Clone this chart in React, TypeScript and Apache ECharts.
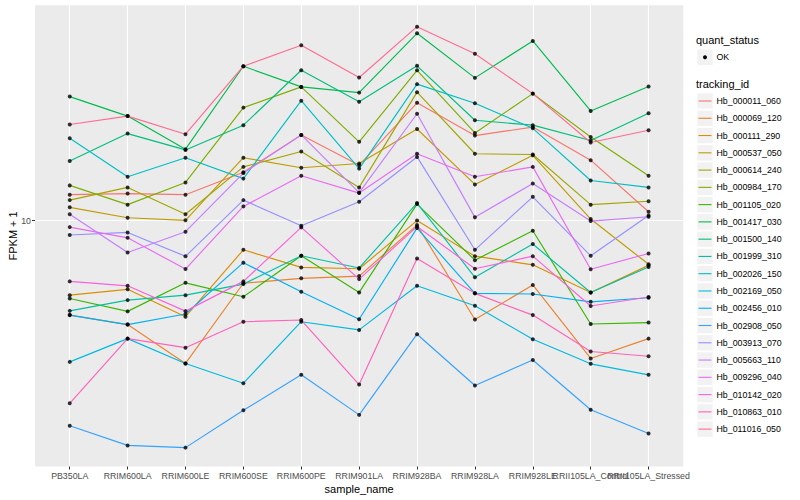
import React, { useEffect, useRef } from "react";
import * as echarts from "echarts";

const categories = [
  "PB350LA", "RRIM600LA", "RRIM600LE", "RRIM600SE", "RRIM600PE", "RRIM901LA",
  "RRIM928BA", "RRIM928LA", "RRIM928LE", "RRII105LA_Control", "RRII105LA_Stressed",
];

const trackingIds = [
  "Hb_000011_060", "Hb_000069_120", "Hb_000111_290", "Hb_000537_050", "Hb_000614_240",
  "Hb_000984_170", "Hb_001105_020", "Hb_001417_030", "Hb_001500_140", "Hb_001999_310",
  "Hb_002026_150", "Hb_002169_050", "Hb_002456_010", "Hb_002908_050", "Hb_003913_070",
  "Hb_005663_110", "Hb_009296_040", "Hb_010142_020", "Hb_010863_010", "Hb_011016_050",
];

const trackingColors = [
  "#F8766D", "#EA8331", "#D89000", "#C09B00", "#A3A500", "#7CAE00", "#39B600",
  "#00BB4E", "#00BF7D", "#00C1A3", "#00BFC4", "#00BAE0", "#00B0F6", "#35A2FF",
  "#9590FF", "#C77CFF", "#E76BF3", "#FA62DB", "#FF62BC", "#FF6C91",
];

// FPKM + 1 values, one array per tracking_id, in category order
const hb000011_060 = [12.2, 12.3, 12.2, 14.5, 19.3, 15.3, 24.7, 19.2, 20.5, 15.9, 10.7];
const hb000069_120 = [4.84, 4.5, 3.34, 6.18, 6.42, 6.53, 9.66, 4.68, 6.1, 3.47, 4.04];
const hb000111_290 = [5.64, 5.9, 4.78, 7.99, 6.98, 6.91, 10.0, 7.61, 7.12, 5.76, 7.09];
const hb000537_050 = [11.07, 10.22, 10.02, 16.2, 15.0, 15.5, 20.2, 13.2, 16.5, 10.12, 7.15];
const hb000614_240 = [11.7, 12.9, 10.5, 15.1, 17.0, 12.9, 26.8, 16.7, 16.6, 11.3, 11.6];
const hb000984_170 = [13.1, 11.3, 13.4, 23.8, 27.9, 18.3, 31.7, 19.6, 26.5, 19.0, 14.1];
const hb001105_020 = [5.5, 4.98, 6.2, 5.57, 7.63, 5.76, 11.35, 7.38, 9.25, 4.52, 4.57];
const hb001417_030 = [25.9, 22.3, 17.3, 32.7, 27.9, 26.7, 42.1, 29.9, 39.7, 23.2, 28.0];
const hb001500_140 = [15.8, 19.5, 17.2, 20.8, 31.7, 24.9, 32.8, 21.6, 20.8, 18.5, 22.8];
const hb001999_310 = [5.0, 5.43, 5.64, 6.14, 7.63, 6.95, 11.44, 6.47, 8.35, 5.76, 7.0];
const hb002026_150 = [18.8, 14.0, 16.2, 13.8, 25.1, 14.9, 28.5, 24.6, 20.3, 13.6, 12.9];
const hb002169_050 = [3.38, 4.04, 3.34, 2.87, 4.6, 4.32, 6.06, 5.2, 4.02, 3.33, 3.06];
const hb002456_010 = [4.84, 4.5, 4.88, 7.24, 5.79, 4.69, 9.44, 5.72, 5.69, 5.36, 5.53];
const hb002908_050 = [2.07, 1.78, 1.75, 2.33, 3.06, 2.25, 4.18, 2.82, 3.43, 2.34, 1.95];
const hb003913_070 = [8.95, 9.13, 7.6, 11.7, 9.61, 11.55, 16.3, 7.99, 12.0, 7.63, 10.4];
const hb005663_110 = [10.5, 7.83, 9.18, 14.4, 19.3, 12.4, 22.7, 10.25, 13.3, 9.96, 10.3];
const hb009296_040 = [9.51, 8.76, 6.89, 11.15, 14.1, 12.35, 16.7, 14.0, 15.1, 6.88, 7.77];
const hb010142_020 = [6.27, 6.06, 4.99, 6.27, 9.49, 6.38, 9.55, 6.91, 7.61, 5.19, 5.56];
const hb010863_010 = [2.46, 4.04, 3.77, 4.6, 4.66, 2.84, 7.48, 5.72, 4.84, 3.66, 3.53];
const hb011016_050 = [20.9, 22.3, 19.4, 32.7, 38.4, 30.0, 44.3, 36.0, 26.5, 18.2, 20.0];

const seriesValues = [
  hb000011_060, hb000069_120, hb000111_290, hb000537_050, hb000614_240,
  hb000984_170, hb001105_020, hb001417_030, hb001500_140, hb001999_310,
  hb002026_150, hb002169_050, hb002456_010, hb002908_050, hb003913_070,
  hb005663_110, hb009296_040, hb010142_020, hb010863_010, hb011016_050,
];

const yTicks = [10];
const yMin = 1.514;
const yMax = 52.2;
const quantStatus = ["OK"];

const FONT = '"Liberation Sans", Arial, Helvetica, sans-serif';

export default function App() {
  const ref = useRef<HTMLDivElement>(null);

  useEffect(() => {
    if (!ref.current) return;
    const chart = echarts.init(ref.current, null, { renderer: "svg" });
    const xTicks = categories.map((_, i) => i + 1);
    // alternate label positions over two overlaid axes so ECharts never drops an overlapping label
    const xTicksA = xTicks.filter((_, i) => i % 2 === 0);
    const xTicksB = xTicks.filter((_, i) => i % 2 === 1);

    const lineSeries = trackingIds.map((id, i) => ({
      name: id,
      type: "line",
      data: seriesValues[i].map((v, j) => [j + 1, v]),
      symbol: "none",
      showSymbol: false,
      lineStyle: { color: trackingColors[i], width: 1.15 },
      itemStyle: { color: trackingColors[i] },
      z: 2,
      silent: true,
    }));
    const pointSeries = trackingIds.map((id, i) => ({
      name: id + " (OK)",
      type: "scatter",
      data: seriesValues[i].map((v, j) => [j + 1, v]),
      symbol: "circle",
      symbolSize: 4,
      itemStyle: { color: "#000000" },
      z: 3,
      silent: true,
    }));

    const legendX = 697.3;
    const keySize = 15.4;
    const step = 17.27;
    const firstKeyTop = 93.3;
    const graphic: any[] = [
      {
        type: "text", left: 696, top: 34.5,
        style: { text: "quant_status", fontSize: 11, fontFamily: FONT, fill: "#000" },
      },
      ...quantStatus.flatMap((q, i) => [
        { type: "rect", shape: { x: legendX, y: 49.5 + i * step, width: keySize, height: keySize }, style: { fill: "#F2F2F2" } },
        { type: "circle", shape: { cx: legendX + keySize / 2, cy: 57.2 + i * step, r: 2 }, style: { fill: "#000" } },
        { type: "text", x: 716.5, y: 57.2 + i * step, style: { text: q, fontSize: 8.8, fontFamily: FONT, fill: "#000", verticalAlign: "middle", align: "left" } },
      ]),
      {
        type: "text", left: 696, top: 78,
        style: { text: "tracking_id", fontSize: 11, fontFamily: FONT, fill: "#000" },
      },
    ];
    trackingIds.forEach((id, i) => {
      const top = firstKeyTop + i * step;
      graphic.push(
        { type: "rect", shape: { x: legendX, y: top, width: keySize, height: keySize }, style: { fill: "#F2F2F2" } },
        { type: "line", shape: { x1: legendX + 1.2, y1: top + keySize / 2, x2: legendX + keySize - 1.2, y2: top + keySize / 2 }, style: { stroke: trackingColors[i], lineWidth: 1.1 } },
        { type: "text", x: 716.5, y: top + keySize / 2, style: { text: id, fontSize: 8.8, fontFamily: FONT, fill: "#000", verticalAlign: "middle", align: "left" } },
      );
    });

    const labelStyle = {
      formatter: (v: number) => categories[Math.round(v) - 1] ?? "",
      color: "#4D4D4D", fontSize: 8.8, fontFamily: FONT, margin: 5,
      hideOverlap: false, showMinLabel: true, showMaxLabel: true,
    };

    chart.setOption({
      animation: false,
      backgroundColor: "#FFFFFF",
      textStyle: { fontFamily: FONT },
      grid: {
        left: 35, right: 116.7, top: 5.3, bottom: 33.5,
        show: true, backgroundColor: "#EBEBEB", borderWidth: 0,
        containLabel: false, outerBoundsMode: "none",
      },
      xAxis: [
        {
          type: "value",
          position: "bottom",
          min: 0.4,
          max: 11.6,
          axisLine: { show: false },
          axisTick: { show: true, length: 3, customValues: xTicks, lineStyle: { color: "#333333", width: 1 } },
          axisLabel: { ...labelStyle, customValues: xTicksA },
          splitLine: { show: true, lineStyle: { color: "#FFFFFF", width: 1.1 } },
          name: "sample_name",
          nameLocation: "middle",
          nameGap: 17,
          nameMoveOverlap: false,
          nameTextStyle: { color: "#000", fontSize: 11, fontFamily: FONT },
        },
        {
          type: "value",
          position: "bottom",
          offset: 0,
          min: 0.4,
          max: 11.6,
          axisLine: { show: false },
          axisTick: { show: false, customValues: xTicksB },
          axisLabel: { ...labelStyle, customValues: xTicksB },
          splitLine: { show: false },
        },
      ],
      yAxis: {
        type: "log",
        logBase: 10,
        min: yMin,
        max: yMax,
        axisLine: { show: false },
        axisTick: { show: true, length: 3, customValues: yTicks, lineStyle: { color: "#333333", width: 1 } },
        axisLabel: {
          customValues: yTicks,
          formatter: (v: number) => String(Math.round(v)),
          color: "#4D4D4D", fontSize: 8.8, fontFamily: FONT, margin: 4,
        },
        splitLine: { show: true, lineStyle: { color: "#FFFFFF", width: 1.1 } },
        minorSplitLine: { show: false },
        name: "FPKM + 1",
        nameLocation: "middle",
        nameGap: 16.5,
        nameMoveOverlap: false,
        nameTextStyle: { color: "#000", fontSize: 11, fontFamily: FONT },
      },
      series: [...lineSeries, ...pointSeries],
      graphic,
    } as any);

    return () => chart.dispose();
  }, []);

  return (
    <div
      ref={ref}
      style={{ position: "fixed", left: 0, top: 0, width: 800, height: 500 }}
    />
  );
}
